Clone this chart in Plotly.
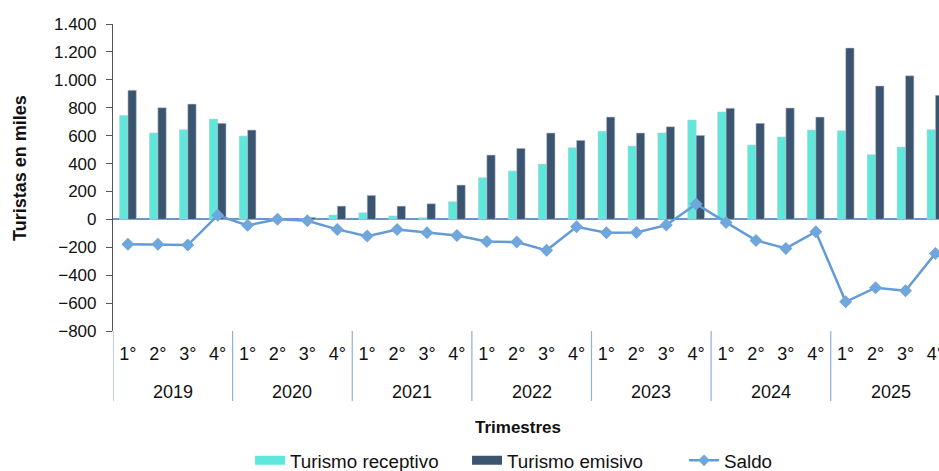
import plotly.graph_objects as go

years = ["2019", "2020", "2021", "2022", "2023", "2024", "2025"]
quarter_labels = ["1°", "2°", "3°", "4°"]

receptivo = [745, 619, 642, 719, 597, 1, 3, 31, 47, 24, 12, 126, 298, 346, 396, 513,
             631, 525, 619, 712, 769, 533, 590, 640, 635, 463, 518, 642]
emisivo = [925, 800, 826, 688, 640, 3, 14, 95, 172, 95, 112, 246, 461, 509, 619, 566,
           733, 619, 664, 602, 796, 688, 798, 733, 1228, 956, 1029, 889]
saldo = [-179, -179, -184, 29, -43, 0, -10, -72, -120, -72, -96, -115, -158, -163, -222, -53,
         -96, -94, -41, 110, -22, -151, -208, -89, -591, -490, -512, -244]

C_REC = "#5EE8DC"
C_EMI = "#3B5570"
C_SAL = "#649BD7"
C_DIV = "#8DB0DE"
FONT = "Liberation Sans, Arial, sans-serif"

# category keys (year + quarter) and their displayed quarter labels
cats = [f"{y} {q}" for y in years for q in quarter_labels]
tick_text = [q for y in years for q in quarter_labels]

fig = go.Figure()
fig.add_trace(go.Bar(x=cats, y=receptivo, name="Turismo receptivo", marker_color=C_REC,
                     marker_line=dict(color="rgba(190,200,210,0.7)", width=0.8), showlegend=False))
fig.add_trace(go.Bar(x=cats, y=emisivo, name="Turismo emisivo", marker_color=C_EMI,
                     marker_line=dict(color="rgba(190,200,210,0.7)", width=0.8), showlegend=False))
fig.add_trace(go.Scatter(x=cats, y=saldo, name="Saldo", mode="lines+markers",
                         line=dict(color=C_SAL, width=2.5),
                         marker=dict(symbol="diamond", size=10, color="#6FA6DC"), showlegend=False))

# legend entries
fig.add_trace(go.Scatter(x=[None], y=[None], mode="lines", name="Turismo receptivo",
                         line=dict(color=C_REC, width=9)))
fig.add_trace(go.Scatter(x=[None], y=[None], mode="lines", name="Turismo emisivo",
                         line=dict(color=C_EMI, width=9)))
fig.add_trace(go.Scatter(x=[None], y=[None], mode="lines+markers", name="Saldo",
                         line=dict(color=C_SAL, width=2.5),
                         marker=dict(symbol="diamond", size=9, color="#6FA6DC")))

fig.update_layout(
    width=939, height=471,
    margin=dict(l=113, r=0, t=24, b=140, autoexpand=False),
    paper_bgcolor="white", plot_bgcolor="white",
    font=dict(family=FONT, size=18, color="#111111"),
    separators=",.",
    barmode="group", bargap=0.44, bargroupgap=0.0,
    showlegend=True,
    legend=dict(orientation="h", x=0.1659, xanchor="left", yref="container", y=0.022,
                yanchor="middle", font=dict(size=18.8, color="#111111"),
                entrywidth=172, itemwidth=30, bgcolor="rgba(0,0,0,0)"),
)

fig.update_xaxes(
    type="category", automargin=False,
    range=[-0.5, 27.12],
    showline=False, showgrid=False, ticks="",
    tickmode="array", tickvals=cats, ticktext=tick_text,
    ticklabelstandoff=10,
    tickfont=dict(size=18, color="#111111"),
)
fig.update_yaxes(
    automargin=False,
    range=[-800, 1400], dtick=200,
    showline=True, linecolor="#555555", linewidth=1.2,
    ticks="outside", ticklen=6, tickcolor="#555555",
    ticklabelstandoff=6,
    showgrid=False,
    zeroline=True, zerolinecolor="#6B95CC", zerolinewidth=1.5,
    separatethousands=True,
    tickfont=dict(size=17, color="#111111"),
)

# year group labels and dividers
n_q = len(quarter_labels)
for i, yr in enumerate(years):
    fig.add_annotation(text=yr, xref="x", yref="paper", x=i * n_q + (n_q - 1) / 2,
                       y=(331 - 392) / 307, showarrow=False, yanchor="middle",
                       font=dict(size=18, color="#111111"))
    fig.add_shape(type="line", xref="x", yref="paper", x0=i * n_q - 0.5, x1=i * n_q - 0.5,
                  y0=0, y1=(331 - 401) / 307, line=dict(color=C_DIV, width=1.2))

fig.add_annotation(text="<b>Turistas en miles</b>", textangle=-90, xref="paper", yref="paper",
                   x=(20 - 113) / 826, y=(331 - 168) / 307, showarrow=False,
                   font=dict(size=18, color="#111111"), xanchor="center", yanchor="middle")
fig.add_annotation(text="<b>Trimestres</b>", xref="paper", yref="paper",
                   x=(518 - 113) / 826, y=(331 - 427) / 307, showarrow=False,
                   font=dict(size=17, color="#111111"), xanchor="center", yanchor="middle")

fig.write_html("out.html", config={"displayModeBar": False},
               post_script="document.body.style.margin='0px';")
